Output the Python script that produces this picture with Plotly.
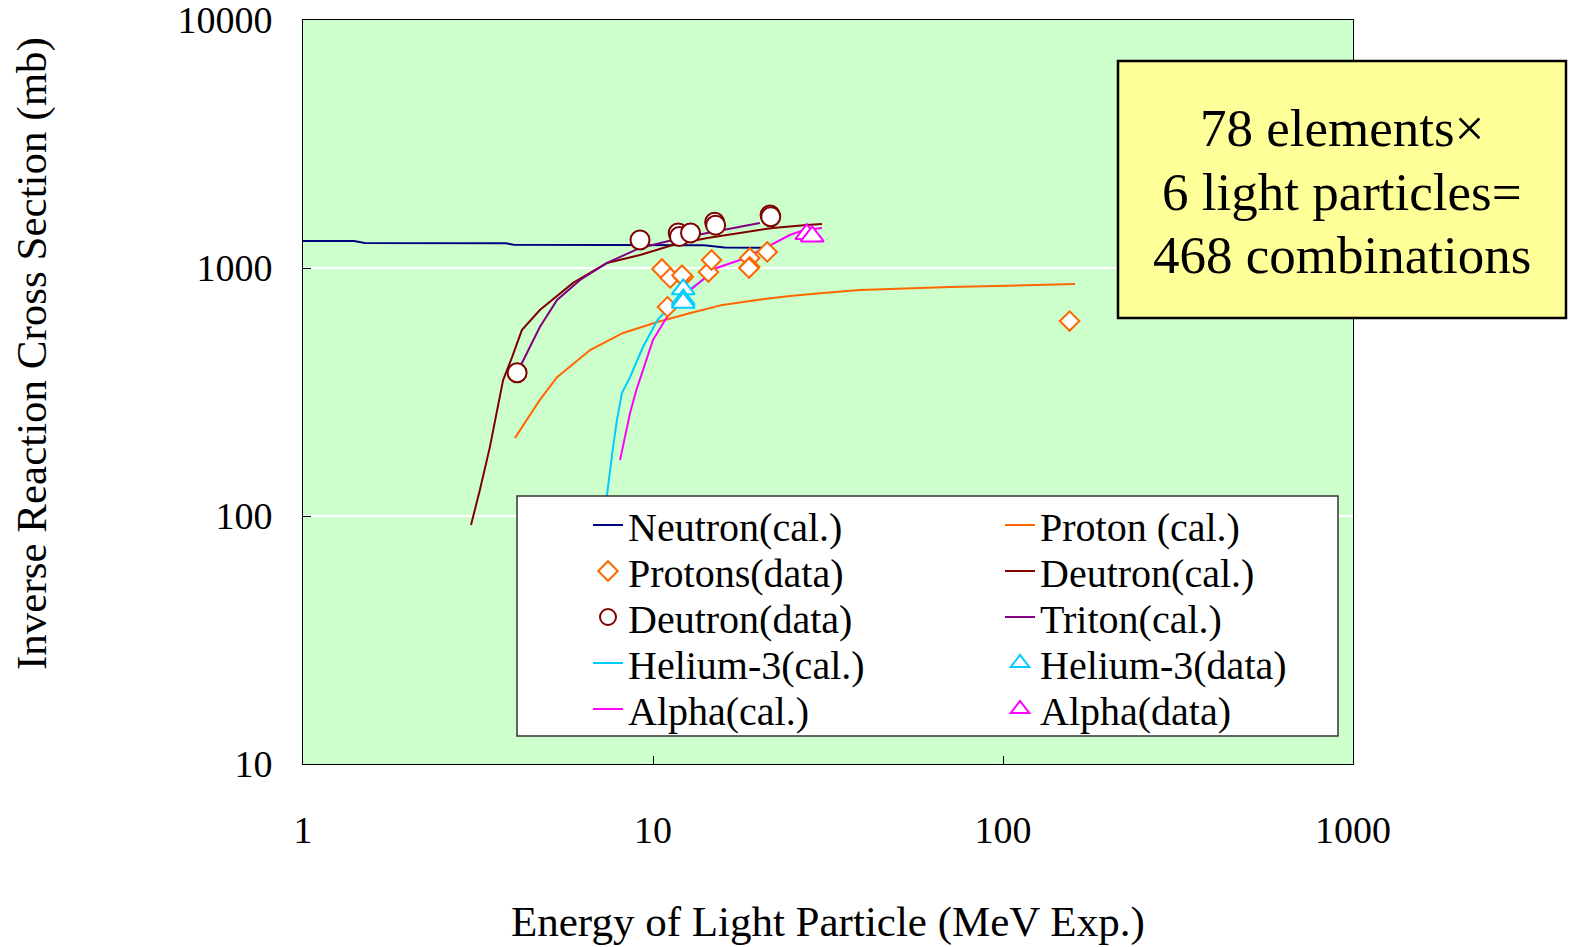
import plotly.graph_objects as go

# ---- calculated inverse reaction cross sections (E in MeV, sigma in mb) ----
neutron_e = [1.0, 1.4, 1.5, 2.5, 3.8, 4.0, 6.0, 8.0, 10.0, 14.0, 16.0, 21.0]
neutron_s = [1285, 1285, 1262, 1260, 1258, 1240, 1238, 1238, 1236, 1234, 1210, 1208]

proton_e = [4.03, 4.75, 5.32, 6.61, 8.21, 10.3, 12.8, 15.8, 19.8, 24.6, 30.6, 39.0, 70.6, 100.0, 160.6]
proton_s = [206, 294, 363, 467, 547, 606, 658, 710, 743, 771, 793, 815, 838, 850, 861]

deuteron_e = [3.02, 3.2, 3.42, 3.73, 3.96, 4.22, 4.75, 5.91, 7.39, 9.18, 11.4, 14.3, 17.7, 22.0, 27.5, 30.4]
deuteron_s = [92, 127, 190, 353, 438, 562, 677, 871, 1048, 1128, 1238, 1322, 1385, 1450, 1490, 1503]

triton_e = [4.09, 4.75, 5.32, 6.19, 7.39, 9.18, 11.4, 14.3, 20.2]
triton_s = [378, 578, 743, 895, 1048, 1205, 1297, 1385, 1518]

helium3_e = [7.2, 7.39, 7.69, 7.89, 8.15, 8.6, 9.36, 10.3, 11.4, 13.0, 14.3]
helium3_s = [80, 122, 190, 244, 313, 363, 480, 617, 723, 838, 920]

alpha_e = [8.05, 8.6, 8.95, 9.36, 10.0, 10.96, 12.8, 15.2, 17.7, 21.2, 24.6, 26.8, 30.4]
alpha_s = [168, 260, 320, 388, 513, 634, 815, 1000, 1077, 1216, 1358, 1418, 1450]

# ---- measured data ----
proton_data_e = [10.6, 11.0, 11.2, 12.2, 12.1, 14.4, 14.7, 18.9, 18.9, 18.8, 21.2, 155.0]
proton_data_s = [991, 697, 912, 920, 935, 963, 1077, 1097, 1010, 1000, 1161, 611]

deuteron_data_e = [4.09, 9.18, 11.8, 11.9, 12.8, 15.0, 15.1, 21.6, 21.7]
deuteron_data_s = [378, 1297, 1385, 1340, 1385, 1530, 1488, 1637, 1610]

helium3_data_e = [12.2, 12.2, 12.2]
helium3_data_s = [820, 745, 725]

alpha_data_e = [27.5, 28.5]
alpha_data_s = [1370, 1340]

x_ticks = [1, 10, 100, 1000]
y_ticks = [10, 100, 1000, 10000]

FONT = "Liberation Serif"
C_N, C_P, C_D, C_T, C_H, C_A = "#000080", "#FF6600", "#800000", "#800080", "#00CCFF", "#FF00FF"

# plot area in pixels
W, H = 1571, 947
L, R, T, B = 303, 218, 20, 183
PW, PH = W - L - R, H - T - B


def px_x(p):
    return (p - L) / PW


def px_y(p):
    return (H - B - p) / PH


fig = go.Figure()


def line(x, y, name, color, leg):
    fig.add_trace(go.Scatter(x=x, y=y, mode="lines", name=name, legend=leg,
                             line=dict(color=color, width=2)))


def pts(x, y, name, color, symbol, size, leg):
    fig.add_trace(go.Scatter(x=x, y=y, mode="markers", name=name, legend=leg,
                             marker=dict(symbol=symbol, size=size, color="white",
                                         line=dict(color=color, width=2))))


line(neutron_e, neutron_s, "Neutron(cal.)", C_N, "legend")
line(proton_e, proton_s, "Proton (cal.)", C_P, "legend2")
line(deuteron_e, deuteron_s, "Deutron(cal.)", C_D, "legend4")
line(triton_e, triton_s, "Triton(cal.)", C_T, "legend6")
line(helium3_e, helium3_s, "Helium-3(cal.)", C_H, "legend7")
line(alpha_e, alpha_s, "Alpha(cal.)", C_A, "legend9")
pts(proton_data_e, proton_data_s, "Protons(data)", C_P, "diamond", 15, "legend3")
pts(deuteron_data_e, deuteron_data_s, "Deutron(data)", C_D, "circle", 19, "legend5")
pts(helium3_data_e, helium3_data_s, "Helium-3(data)", C_H, "triangle-up", 20, "legend8")
pts(alpha_data_e, alpha_data_s, "Alpha(data)", C_A, "triangle-up", 20, "legend10")

# legend grid: 5 rows x 2 columns, one legend per entry
row_px = [525, 571, 617, 663, 709]
col_px = [588, 1000]
legends = {}
for i in range(10):
    key = "legend" if i == 0 else f"legend{i + 1}"
    legends[key] = dict(
        x=px_x(col_px[i % 2]), y=px_y(row_px[i // 2]),
        xanchor="left", yanchor="middle",
        bgcolor="rgba(0,0,0,0)", borderwidth=0,
        font=dict(family=FONT, size=40, color="black"),
    )

fig.update_layout(
    width=W, height=H,
    margin=dict(l=L, r=R, t=T, b=B, pad=0, autoexpand=False),
    paper_bgcolor="white", plot_bgcolor="#CCFFCC",
    showlegend=True,
    font=dict(family=FONT, color="black"),
    **legends,
)

fig.update_xaxes(
    type="log", range=[-1e-6, 3 + 1e-6], tickvals=x_ticks, ticktext=[str(v) for v in x_ticks],
    showgrid=False, zeroline=False, automargin=False,
    showline=True, linecolor="black", linewidth=1, mirror=True,
    ticks="inside", ticklen=8, tickcolor="black",
    tickfont=dict(family=FONT, size=38), ticklabelstandoff=32,
    ticklabeloverflow="allow",
)
fig.update_yaxes(
    type="log", range=[1 - 1e-6, 4 + 1e-6], tickvals=y_ticks, ticktext=[str(v) for v in y_ticks],
    showgrid=True, gridcolor="white", gridwidth=1.5, zeroline=False, automargin=False,
    showline=True, linecolor="black", linewidth=1, mirror=True,
    ticks="inside", ticklen=8, tickcolor="black",
    tickfont=dict(family=FONT, size=38), ticklabelstandoff=22,
    ticklabeloverflow="allow",
)

# legend frame and summary box
fig.add_shape(type="rect", xref="paper", yref="paper",
              x0=px_x(517), x1=px_x(1338), y0=px_y(736), y1=px_y(496),
              fillcolor="white", line=dict(color="#333333", width=1.5), layer="above")
fig.add_shape(type="rect", xref="paper", yref="paper",
              x0=px_x(1118), x1=px_x(1566), y0=px_y(318), y1=px_y(61),
              fillcolor="#FFFF99", line=dict(color="black", width=2.5), layer="above")

box_lines = ["78 elements×", "6 light particles=", "468 combinations"]
box_y = [128, 192, 255]
for txt, yy in zip(box_lines, box_y):
    fig.add_annotation(text=txt, xref="paper", yref="paper", x=px_x(1342), y=px_y(yy),
                       xanchor="center", yanchor="middle", showarrow=False,
                       font=dict(family=FONT, size=53, color="black"))

# axis titles
fig.add_annotation(text="Energy of Light Particle (MeV Exp.)", xref="paper", yref="paper",
                   x=px_x(828), y=px_y(922), xanchor="center", yanchor="middle",
                   showarrow=False, font=dict(family=FONT, size=43, color="black"))
fig.add_annotation(text="Inverse Reaction Cross Section (mb)", xref="paper", yref="paper",
                   x=px_x(32), y=px_y(354), xanchor="center", yanchor="middle",
                   textangle=-90, showarrow=False,
                   font=dict(family=FONT, size=43, color="black"))

fig.write_html("out.html")
